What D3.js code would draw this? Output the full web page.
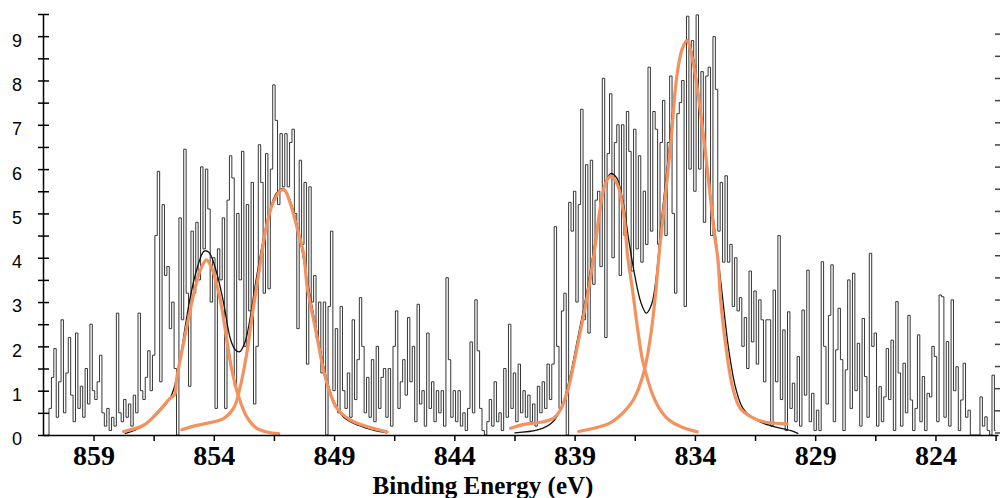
<!DOCTYPE html>
<html>
<head>
<meta charset="utf-8">
<script src="https://cdnjs.cloudflare.com/ajax/libs/d3/7.8.5/d3.min.js"></script>
<style>
body{margin:0;background:#fff;}
svg{display:block;}
</style>
</head>
<body>
<svg id="chart" width="1000" height="498"></svg>
<script>
// raw spectrum, one value every 0.1 eV starting at 860.9 eV
var specStart = 860.9,
specStep = 0.1;
var specCounts = [
0, 0.6, 1.3, 1.95, 0.4, 1.2, 2.6, 0.5, 1.4, 2.2,
0.9, 0.3, 2.3, 0.6, 1.1, 0.4, 1.5, 0.7, 2.5, 1.0,
0.8, 1.2, 1.8, 0.5, 0.2, 0.6, 0.1, 0.4, 0.2, 2.75,
0.5, 0.3, 0.8, 0.4, 0.7, 0.2, 0.9, 0.5, 2.75, 1.0,
0.8, 1.3, 1.9, 1.0, 1.8, 4.5, 5.95, 1.2, 5.2, 3.6,
3.8, 2.4, 3.0, 1.5, 0.0, 4.9, 2.6, 6.45, 3.2, 1.1,
4.6, 3.2, 4.8, 3.5, 6.05, 4.2, 6.0, 5.1, 3.0, 4.0,
0.6, 4.2, 3.5, 4.9, 0.6, 5.3, 6.3, 5.8, 1.1, 5.0,
3.5, 6.4, 2.0, 5.2, 2.8, 5.7, 0.7, 2.0, 6.55, 5.7,
3.2, 6.35, 3.3, 6.0, 7.9, 7.1, 5.2, 6.8, 5.6, 6.8,
5.6, 6.6, 6.9, 5.0, 2.4, 6.2, 4.3, 5.7, 1.6, 5.6,
3.0, 3.6, 2.2, 3.0, 1.4, 3.0, 0.0, 2.9, 4.6, 1.0,
2.4, 0.5, 2.9, 1.0, 0.6, 1.4, 0.4, 2.6, 0.8, 1.7,
3.1, 2.0, 0.5, 1.3, 0.4, 1.7, 0.3, 2.0, 0.6, 1.3,
1.5, 0.4, 1.5, 0.2, 2.0, 2.8, 0.6, 1.2, 1.7, 0.9,
2.65, 1.2, 2.0, 0.3, 2.95, 0.7, 1.0, 0.2, 2.3, 0.6,
1.2, 0.3, 1.0, 0.5, 1.0, 0.2, 3.55, 1.7, 0.4, 1.0,
0.3, 1.0, 0.2, 0.5, 0.1, 0.6, 2.1, 0.5, 3.05, 1.9,
0.6, 0.1, 0.0, 0.3, 0.8, 0.2, 1.2, 0.3, 0.5, 0.1,
1.5, 0.4, 2.5, 0.6, 1.4, 0.3, 1.6, 0.5, 1.0, 0.4,
0.9, 0.3, 0.7, 0.2, 1.1, 0.5, 1.2, 0.6, 1.6, 0.8,
1.6, 4.7, 2.0, 0.6, 2.8, 3.2, 0.0, 5.25, 4.6, 5.5,
3.0, 5.2, 7.35, 2.6, 6.1, 2.3, 6.2, 3.4, 5.3, 5.5,
3.8, 8.05, 2.2, 6.35, 7.7, 4.0, 6.6, 7.0, 3.6, 7.0,
4.5, 7.3, 6.4, 3.7, 6.9, 4.2, 6.3, 3.9, 5.5, 4.3,
8.3, 4.6, 7.3, 6.9, 4.3, 6.6, 7.55, 4.5, 6.6, 8.1,
5.0, 3.2, 7.25, 7.5, 8.0, 2.9, 9.45, 6.0, 8.9, 5.5,
9.48, 6.0, 8.2, 4.8, 8.1, 8.3, 4.5, 8.99, 7.8, 4.6,
5.7, 3.9, 5.85, 3.9, 4.3, 2.9, 4.0, 2.8, 3.1, 2.0,
2.65, 1.5, 3.7, 2.1, 3.25, 1.6, 3.05, 2.6, 1.2, 2.6,
2.6, 0.2, 3.27, 1.2, 4.5, 0.8, 2.37, 0.1, 2.78, 0.6,
1.17, 0.3, 1.77, 0.2, 2.82, 0.9, 3.72, 0.3, 0.94, 0.1,
0.56, 0.1, 3.91, 2.0, 0.7, 2.7, 3.84, 0.3, 1.92, 2.86,
1.7, 0.1, 1.47, 3.5, 0.6, 3.65, 1.0, 2.07, 0.2, 2.63,
1.32, 0.4, 4.1, 2.0, 2.3, 0.2, 1.09, 0.3, 0.86, 1.95,
0.8, 2.14, 0.1, 3.01, 1.4, 0.2, 1.62, 0.5, 2.7, 0.79,
0.1, 0.6, 2.26, 0.3, 1.32, 0.1, 0.94, 0.86, 2.0, 1.77,
0.3, 3.16, 3.12, 0.4, 2.11, 0.2, 3.05, 1.0, 1.54, 0.1,
0.79, 1.62, 0.4, 0.56, 0.0, 0.0, 0.0, 0.0, 0.86, 0.2,
0.41, 0.1, 0.0, 1.35, 0.1
];

// fitted components [eV, counts]
var peak1 = [[857.75,0.08],[856.92,0.22],[856.37,0.49],[855.81,0.83],[855.62,0.92],[855.55,1.25],[855.26,2.07],[854.98,2.82],[854.76,3.35],[854.56,3.72],[854.31,3.95],[854.08,3.76],[853.73,3.05],[853.46,2.15],[853.25,1.47],[852.97,0.87],[852.63,0.41],[852.21,0.15],[851.65,0.05],[851.3,0.03]];
var peak2 = [[855.33,0.12],[854.84,0.2],[854.15,0.28],[853.6,0.37],[853.18,0.6],[852.9,1.09],[852.63,1.84],[852.35,2.89],[852.07,3.87],[851.79,4.77],[851.52,5.26],[851.2,5.53],[851.05,5.52],[850.82,5.23],[850.55,4.7],[850.27,4.1],[850.13,3.4],[849.99,2.97],[849.71,2.22],[849.44,1.47],[849.16,0.94],[848.88,0.6],[848.33,0.34],[847.64,0.19],[846.8,0.07]];
var peak3 = [[841.66,0.15],[841.12,0.24],[840.29,0.3],[839.87,0.38],[839.6,0.56],[839.3,0.98],[838.85,2.1],[838.42,3.3],[838.15,4.25],[837.93,5.15],[837.72,5.68],[837.52,5.83],[837.24,5.68],[836.96,5.0],[836.8,4.05],[836.6,3.3],[836.42,2.55],[836.2,1.75],[836.05,1.42],[835.75,0.9],[835.5,0.62],[835.1,0.35],[834.6,0.19],[833.9,0.07]];
var peak4 = [[838.83,0.08],[838.07,0.17],[837.5,0.28],[836.9,0.55],[836.55,0.8],[836.13,1.4],[835.85,2.2],[835.65,3.1],[835.5,4.0],[835.35,4.8],[835.15,5.8],[835.0,6.6],[834.75,8.1],[834.54,8.69],[834.33,8.9],[834.12,8.54],[833.91,7.86],[833.64,6.73],[833.36,5.38],[833.17,4.45],[833.05,4.0],[832.93,3.05],[832.73,2.07],[832.42,1.05],[832.11,0.6],[831.56,0.38],[831.14,0.3],[830.17,0.25]];

// envelopes (sum of the fit)
var envelopeLeft = [[857.7,0.03],[857.0,0.18],[856.4,0.45],[855.8,0.85],[855.5,1.4],[855.2,2.4],[855.0,3.05],[854.7,3.75],[854.4,4.15],[854.2,4.12],[853.9,3.7],[853.6,3.0],[853.3,2.15],[853.1,1.92],[852.92,1.88],[852.7,2.1],[852.5,2.6],[852.3,3.3],[852.0,4.25],[851.7,5.0],[851.4,5.45],[851.1,5.56],[850.8,5.25],[850.5,4.65],[850.2,3.75],[849.9,2.85],[849.6,2.0],[849.3,1.25],[849.0,0.75],[848.6,0.4],[848.0,0.22],[847.3,0.1],[846.8,0.05]];
var envelopeRight = [[841.5,0.05],[840.5,0.12],[839.9,0.3],[839.5,0.7],[839.2,1.3],[838.9,2.1],[838.5,3.2],[838.2,4.2],[837.9,5.2],[837.7,5.72],[837.5,5.9],[837.25,5.8],[837.0,5.3],[836.75,4.4],[836.5,3.6],[836.25,3.0],[836.02,2.75],[835.8,2.95],[835.6,3.6],[835.4,4.8],[835.1,6.3],[834.8,7.9],[834.5,8.75],[834.33,8.92],[834.1,8.6],[833.85,7.7],[833.6,6.6],[833.35,5.4],[833.1,4.3],[832.85,3.1],[832.6,1.95],[832.3,1.05],[832.0,0.6],[831.5,0.35],[830.8,0.2],[830.0,0.1],[829.7,0.03]];

var xTicks = [859, 856.5, 854, 851.5, 849, 846.5, 844, 841.5, 839, 836.5, 834, 831.5, 829, 826.5, 824, 821.5];
var xLabels = [859, 854, 849, 844, 839, 834, 829, 824];
var yTicks = [0, 0.5, 1, 1.5, 2, 2.5, 3, 3.5, 4, 4.5, 5, 5.5, 6, 6.5, 7, 7.5, 8, 8.5, 9, 9.5];
var yLabels = [0, 1, 2, 3, 4, 5, 6, 7, 8, 9];

var svg = d3.select("#chart");

var x = d3.scaleLinear().domain([861.1, 821.4]).range([43, 998]),
y = d3.scaleLinear().domain([0, 9.5]).range([435, 14]);

//SPECTRUM
var specLine = d3.line()
	.x(function(d, i){ return x(specStart - i*specStep); })
	.y(function(d){ return y(d); })
	.curve(d3.curveStep);

svg.append("path")
	.datum(specCounts)
	.attr("d", specLine)
	.attr("fill", "none")
	.attr("stroke", "#2b2b2b")
	.attr("stroke-width", 0.95);

//FIT
var fitLine = d3.line()
	.x(function(d){ return x(d[0]); })
	.y(function(d){ return y(d[1]); })
	.curve(d3.curveCatmullRom.alpha(0.5));

[envelopeLeft, envelopeRight].forEach(function(e){
	svg.append("path")
		.datum(e)
		.attr("d", fitLine)
		.attr("fill", "none")
		.attr("stroke", "#111")
		.attr("stroke-width", 1.3);
});

[peak1, peak2, peak3, peak4].forEach(function(p){
	svg.append("path")
		.datum(p)
		.attr("d", fitLine)
		.attr("fill", "none")
		.attr("stroke", "#f3925f")
		.attr("stroke-width", 3.2)
		.attr("stroke-linecap", "round")
		.attr("stroke-linejoin", "round");
});

//AXES
var yAxis = svg.append("g")
	.attr("transform", "translate(43,0)")
	.call(d3.axisLeft(y)
		.tickValues(yTicks)
		.tickSize(5)
		.tickSizeOuter(0)
		.tickPadding(16)
		.tickFormat(function(d){ return yLabels.indexOf(d) > -1 ? d : ""; }));
yAxis.selectAll(".tick line").attr("x1", 6);
yAxis.selectAll("text")
	.attr("dy", "0.55em")
	.style("font-family", "'Liberation Sans', Arial, sans-serif")
	.style("font-size", "18px")
	.attr("fill", "#000");

var xAxis = svg.append("g")
	.attr("transform", "translate(0,435)")
	.call(d3.axisBottom(x)
		.tickValues(xTicks)
		.tickSize(6)
		.tickSizeOuter(0)
		.tickPadding(4)
		.tickFormat(function(d){ return xLabels.indexOf(d) > -1 ? d : ""; }));
xAxis.selectAll("text")
	.style("font-family", "'Liberation Serif', 'Times New Roman', serif")
	.style("font-weight", "bold")
	.style("font-size", "28px")
	.attr("fill", "#000");

svg.selectAll(".domain, .tick line")
	.attr("stroke", "#000")
	.attr("stroke-width", 1.5);

// right side ticks
svg.append("g")
	.selectAll("line")
	.data(yTicks.slice(0, 19))
	.enter()
	.append("line")
	.attr("x1", 995)
	.attr("x2", 1000)
	.attr("y1", function(d){ return y(d) - 2; })
	.attr("y2", function(d){ return y(d) - 2; })
	.attr("stroke", "#444")
	.attr("stroke-width", 1.5);

svg.append("text")
	.attr("x", 483)
	.attr("y", 494)
	.attr("text-anchor", "middle")
	.style("font-family", "'Liberation Serif', 'Times New Roman', serif")
	.style("font-weight", "bold")
	.style("font-size", "25px")
	.text("Binding Energy (eV)");
</script>
</body>
</html>
